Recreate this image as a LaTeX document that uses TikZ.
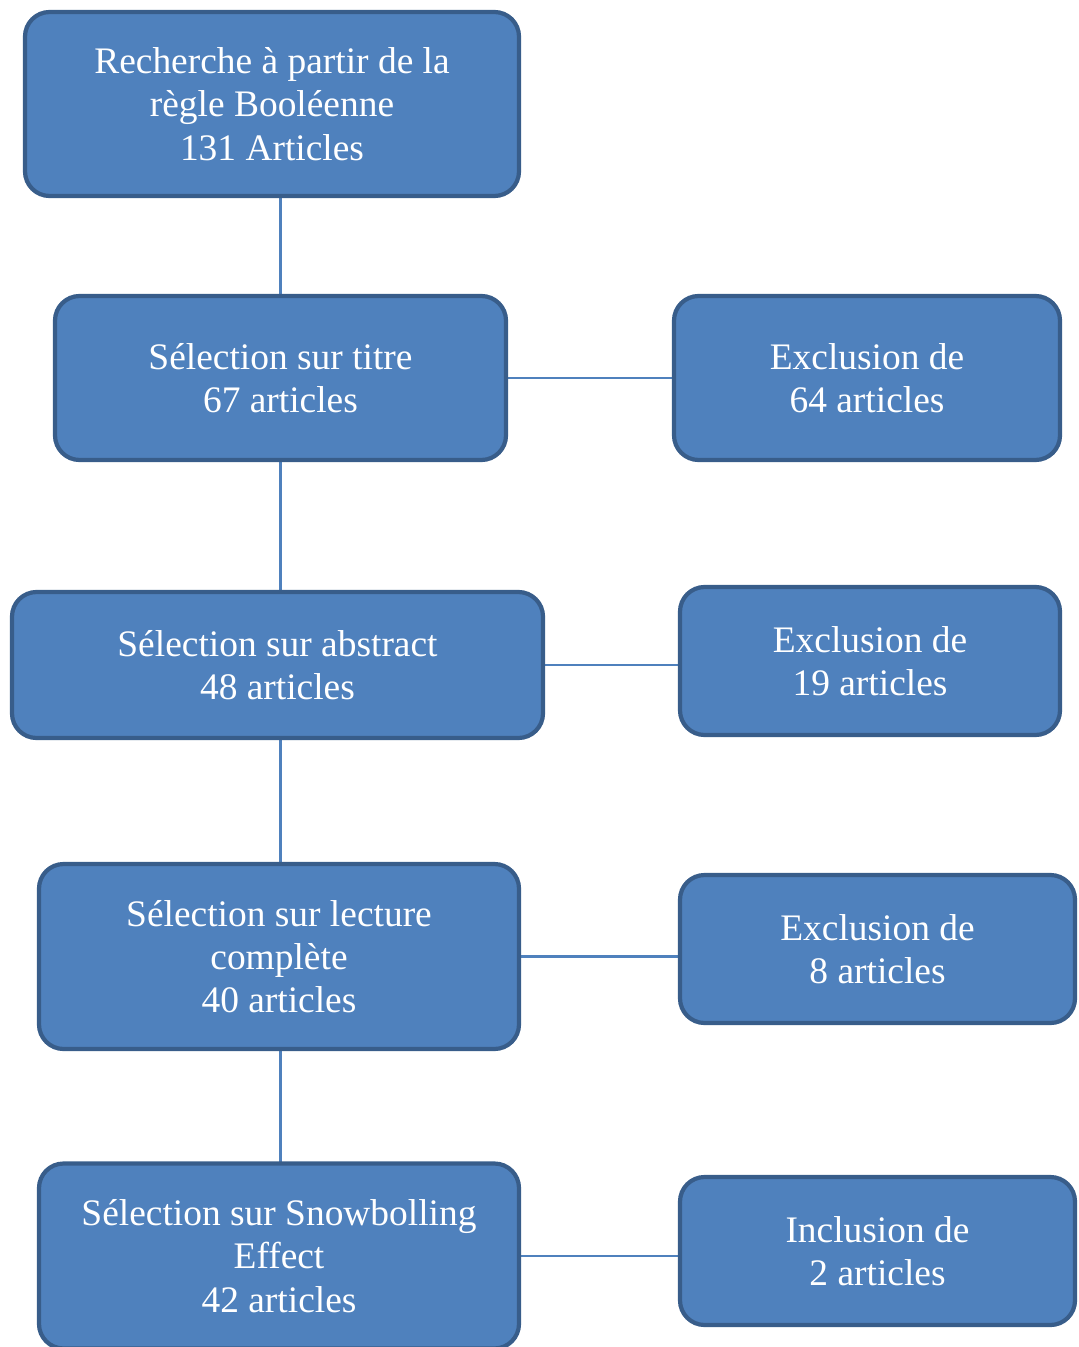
\documentclass[tikz,border=0pt]{standalone}
\usepackage{fontspec}
\setmainfont{Liberation Serif}
\usepackage{tikz}
\usetikzlibrary{positioning,backgrounds}
\definecolor{boxfill}{HTML}{4F81BD}
\definecolor{boxline}{HTML}{385D8A}
\definecolor{linkblue}{HTML}{4F81BD}

\begin{document}
\begin{tikzpicture}
  \tikzset{rounded/.style={draw=boxline,fill=boxfill,line width=2.4pt,rectangle,rounded corners=14pt,
      text=white,align=center,inner sep=0pt,font=\fontsize{21.3}{24.6}\selectfont}}
  \tikzset{link/.style={draw=linkblue,line width=1.2pt}}
  \useasboundingbox (0,0) rectangle (21.56,-26.94);
  \node[rounded,minimum width=9.88cm,minimum height=3.68cm] (n1) at (5.44,-2.08)
    {Recherche à partir de la\\règle Booléenne\\131 Articles};
  \node[rounded,minimum width=9.02cm,minimum height=3.28cm] (n2) at (5.61,-7.56)
    {Sélection sur titre\\67 articles};
  \node[rounded,minimum width=7.72cm,minimum height=3.28cm] (n3) at (17.34,-7.56)
    {Exclusion de\\64 articles};
  \node[rounded,minimum width=10.62cm,minimum height=2.92cm] (n4) at (5.55,-13.30)
    {Sélection sur abstract\\48 articles};
  \node[rounded,minimum width=7.60cm,minimum height=2.96cm] (n5) at (17.40,-13.22)
    {Exclusion de\\19 articles};
  \node[rounded,minimum width=9.60cm,minimum height=3.70cm] (n6) at (5.58,-19.13)
    {Sélection sur lecture\\complète\\40 articles};
  \node[rounded,minimum width=7.90cm,minimum height=2.96cm] (n7) at (17.55,-18.98)
    {Exclusion de\\8 articles};
  \node[rounded,minimum width=9.60cm,minimum height=3.70cm] (n8) at (5.58,-25.12)
    {Sélection sur Snowbolling\\Effect\\42 articles};
  \node[rounded,minimum width=7.90cm,minimum height=2.96cm] (n9) at (17.55,-25.02)
    {Inclusion de\\2 articles};
  \begin{pgfonlayer}{background}
  \path[link]
  (n2 |- n1)
  edge [] (n2 |- n8)
  (n2)
  edge [] (n2 -| n3)
  (n4)
  edge [] (n4 -| n5)
  (n6)
  edge [] (n6 -| n7)
  (n8)
  edge [] (n8 -| n9)
  ;
  \end{pgfonlayer}
\end{tikzpicture}
\end{document}
